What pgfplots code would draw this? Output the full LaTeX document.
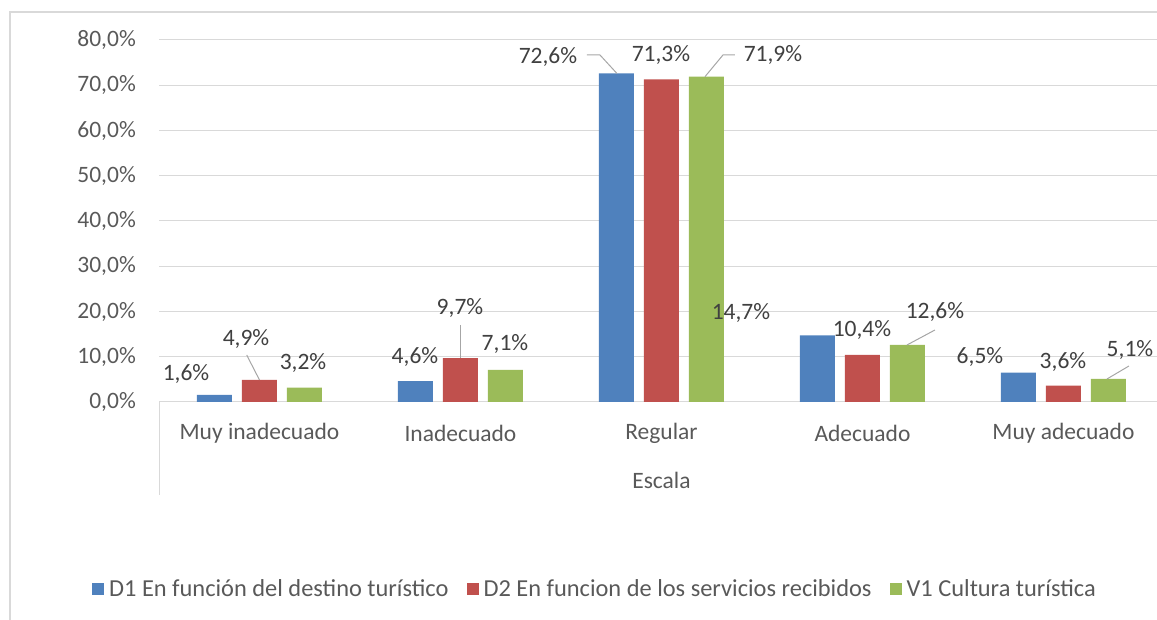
\documentclass[border=0pt]{standalone}
\usepackage{pgfplots}
\pgfplotsset{compat=1.18}
\usepackage{fontspec}
\setmainfont{Carlito}
\definecolor{cblue}{HTML}{4F81BD}
\definecolor{cred}{HTML}{C0504D}
\definecolor{cgreen}{HTML}{9BBB59}
\definecolor{gridgray}{HTML}{D9D9D9}
\definecolor{lblgray}{HTML}{595959}
\definecolor{datgray}{HTML}{404040}
\definecolor{leadgray}{HTML}{A6A6A6}
\newcommand{\fs}{\fontsize{23.5}{28}\selectfont}
\begin{document}
\begin{tikzpicture}
\useasboundingbox (0,0) rectangle (1157pt,620pt);
\clip (0,0) rectangle (1157pt,620pt);
\draw[gridgray, line width=1.2pt] (10pt,-20pt) -- (10pt,608pt) -- (1200pt,608pt);
\begin{axis}[
  at={(159pt,218pt)}, anchor=south west,
  scale only axis, width=1005pt, height=362pt,
  xmin=-0.5, xmax=4.5, ymin=0, ymax=80,
  clip=false,
  ybar, bar width=35pt,
  ytick={0,10,...,80},
  yticklabels={{0,0\%},{10,0\%},{20,0\%},{30,0\%},{40,0\%},{50,0\%},{60,0\%},{70,0\%},{80,0\%}},
  xtick={0,1,2,3,4},
  xticklabels={Muy inadecuado,Inadecuado,Regular,Adecuado,Muy adecuado},
  /pgf/number format/assume math mode=true,
  major tick length=0pt,
  tick style={draw=none},
  ymajorgrids, grid style={line width=1pt, draw=gridgray},
  x axis line style={draw=gridgray, line width=1pt},
  y axis line style={draw=none},
  yticklabel style={anchor=east, inner sep=0pt, xshift=-23pt, font=\fs, text=lblgray},
  xticklabel style={anchor=center, inner sep=0pt, yshift=-31pt, font=\fs, text=lblgray},
  xlabel={Escala},
  xlabel style={at={(axis description cs:0.5,0)}, anchor=center, yshift=-78pt, font=\fs, text=lblgray},
  legend style={at={(axis description cs:0.4333,-0.5166)}, anchor=center, draw=none, fill=none,
    legend columns=3, font=\fontsize{24.4}{28}\selectfont, text=lblgray,
    /tikz/every even column/.append style={column sep=17pt},
    /tikz/every odd column/.append style={column sep=4pt},
    nodes={inner sep=1pt}},
  legend image code/.code={\fill[#1, draw=none] (0pt,-6pt) rectangle (12pt,6pt);},
]
\addplot[fill=cblue, draw=none, bar shift=-45pt] coordinates {(0,1.6) (1,4.6) (2,72.6) (3,14.7) (4,6.5)};
\addplot[fill=cred, draw=none, bar shift=0pt] coordinates {(0,4.9) (1,9.7) (2,71.3) (3,10.4) (4,3.6)};
\addplot[fill=cgreen, draw=none, bar shift=45pt] coordinates {(0,3.2) (1,7.1) (2,71.9) (3,12.6) (4,5.1)};
\legend{D1 En función del destino turístico, D2 En funcion de los servicios recibidos, V1 Cultura turística}
% separator
\draw[gridgray, line width=1pt] (axis cs:-0.5,0) -- ++(0pt,-93pt);
% leader lines
\begin{scope}[leadgray, line width=1pt]
\draw ([xshift=-12.8pt,yshift=47pt]axis cs:0,0) -- ([yshift=22pt]axis cs:0,0);
\draw ([yshift=77pt]axis cs:1,0) -- ([yshift=44pt]axis cs:1,0);
\draw ([xshift=-74.5pt,yshift=347pt]axis cs:2,0) -- ([xshift=-61.5pt,yshift=347pt]axis cs:2,0) -- ([xshift=-44.5pt,yshift=328.5pt]axis cs:2,0);
\draw ([xshift=73.5pt,yshift=347pt]axis cs:2,0) -- ([xshift=61.5pt,yshift=347pt]axis cs:2,0) -- ([xshift=43.5pt,yshift=325.3pt]axis cs:2,0);
\draw ([xshift=72.5pt,yshift=72pt]axis cs:3,0) -- ([xshift=44.5pt,yshift=57pt]axis cs:3,0);
\draw ([xshift=65.5pt,yshift=36pt]axis cs:4,0) -- ([xshift=43.5pt,yshift=23pt]axis cs:4,0);
\end{scope}
% data labels
\begin{scope}[every node/.style={font=\fs, text=datgray, inner sep=0pt, anchor=center}]
\node at ([xshift=-73.5pt,yshift=28pt]axis cs:0,0) {1,6\%};
\node at ([xshift=-13.5pt,yshift=63pt]axis cs:0,0) {4,9\%};
\node at ([xshift=43.5pt,yshift=39pt]axis cs:0,0) {3,2\%};
\node at ([xshift=-45.5pt,yshift=45pt]axis cs:1,0) {4,6\%};
\node at ([xshift=-0.5pt,yshift=94pt]axis cs:1,0) {9,7\%};
\node at ([xshift=44.5pt,yshift=58pt]axis cs:1,0) {7,1\%};
\node at ([xshift=-113.5pt,yshift=345pt]axis cs:2,0) {72,6\%};
\node at ([xshift=-0.5pt,yshift=347pt]axis cs:2,0) {71,3\%};
\node at ([xshift=111.5pt,yshift=347pt]axis cs:2,0) {71,9\%};
\node at ([xshift=-121.5pt,yshift=89pt]axis cs:3,0) {14,7\%};
\node at ([xshift=-0.5pt,yshift=72pt]axis cs:3,0) {10,4\%};
\node at ([xshift=72.5pt,yshift=90pt]axis cs:3,0) {12,6\%};
\node at ([xshift=-83.5pt,yshift=45pt]axis cs:4,0) {6,5\%};
\node at ([xshift=-0.5pt,yshift=40pt]axis cs:4,0) {3,6\%};
\node at ([xshift=66.5pt,yshift=52pt]axis cs:4,0) {5,1\%};
\end{scope}
\end{axis}
\end{tikzpicture}
\end{document}
